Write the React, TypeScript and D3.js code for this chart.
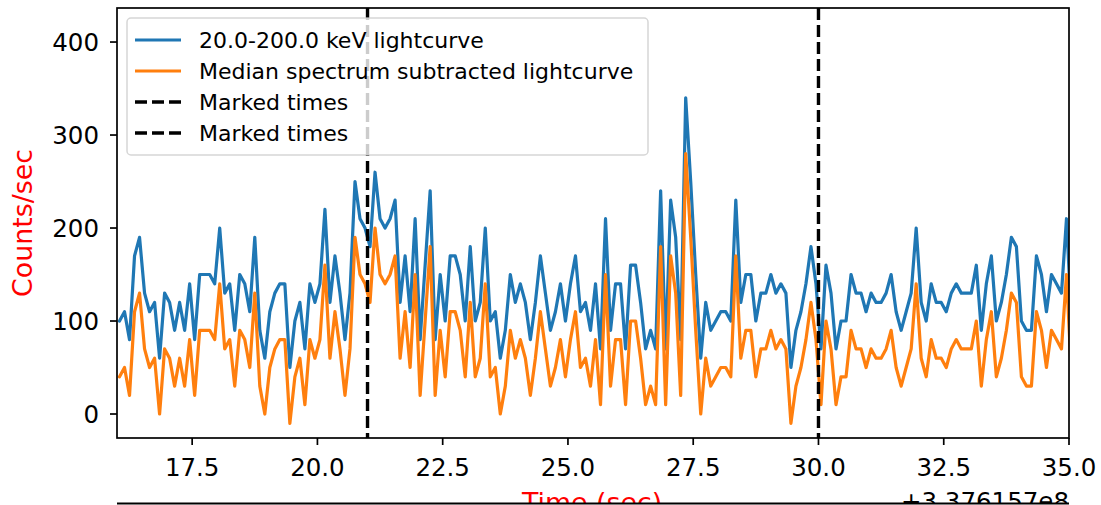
import React from "react";
import * as d3 from "d3";

// ---- data ----
const T0 = 16.05; // time of first bin (s, relative to offset)
const BIN = 0.1; // bin width (s)
const blueCounts: number[] = [
  100, 110, 80, 170, 190, 130, 110, 120, 60, 130, 120, 90, 120, 90, 140, 80, 150, 150, 150, 140, 200, 130, 140,
  90, 150, 140, 110, 190, 90, 60, 110, 130, 140, 140, 50, 100, 120, 70, 140, 120, 140, 220, 120, 170, 130, 80,
  130, 250, 210, 200, 180, 260, 210, 200, 210, 230, 120, 170, 110, 210, 80, 160, 240, 80, 150, 100, 170, 170, 150,
  100, 180, 100, 120, 200, 100, 110, 60, 90, 150, 120, 140, 120, 80, 120, 170, 130, 90, 110, 140, 100, 140, 170, 110,
  120, 90, 140, 70, 210, 90, 140, 140, 70, 160, 160, 120, 70, 90, 70, 240, 70, 230, 190, 80, 340,
  250, 150, 60, 120, 90,
  100, 110, 110, 100, 230, 120, 150, 150, 100, 130, 130, 150, 130, 140, 130, 50, 90, 110, 140, 180,
  140, 70, 160, 130, 70, 100, 100, 150, 130, 130, 110, 130, 120, 120, 130, 150, 110, 90, 110, 130, 200, 120, 100,
  140, 120, 120, 110, 130, 140, 130, 130, 130, 160, 90, 140, 170, 100, 120, 150, 190, 180, 100, 90, 90, 170, 150, 110, 150, 140, 130, 210, 100,
];
const orangeCounts: number[] = [
  40, 50, 20, 110, 130, 70, 50, 60, 0, 70, 60, 30, 60, 30, 80, 20, 90, 90, 90, 80, 140, 70, 80,
  30, 90, 80, 50, 130, 30, 0, 50, 70, 80, 80, -10, 40, 60, 10, 80, 60, 80, 160, 60, 110, 70, 20,
  70, 190, 150, 140, 120, 200, 150, 140, 150, 170, 60, 110, 50, 150, 20, 100, 180, 20, 90, 40, 110, 110, 90,
  40, 120, 40, 60, 140, 40, 50, 0, 30, 90, 60, 80, 60, 20, 60, 110, 70, 30, 50, 80, 40, 80, 110, 50,
  60, 30, 80, 10, 150, 30, 80, 80, 10, 100, 100, 60, 10, 30, 10, 180, 10, 170, 130, 20, 280,
  190, 90, 0, 60, 30,
  40, 50, 50, 40, 170, 60, 90, 90, 40, 70, 70, 90, 70, 80, 70, -10, 30, 50, 80, 120,
  80, 10, 100, 70, 10, 40, 40, 90, 70, 70, 50, 70, 60, 60, 70, 90, 50, 30, 50, 70, 140, 60, 40,
  80, 60, 60, 50, 70, 80, 70, 70, 70, 100, 30, 80, 110, 40, 60, 90, 130, 120, 40, 30, 30, 110, 90, 50, 90, 80, 70, 150, 40,
];
const markedTimes: number[] = [21.0, 30.0];
const xTicks: number[] = [17.5, 20.0, 22.5, 25.0, 27.5, 30.0, 32.5, 35.0];
const yTicks: number[] = [0, 100, 200, 300, 400];
const legendLabels: string[] = [
  "20.0-200.0 keV lightcurve",
  "Median spectrum subtracted lightcurve",
  "Marked times",
  "Marked times",
];
const xLabel = "Time (sec)";
const yLabel = "Counts/sec";
const offsetText = "+3.376157e8";

// ---- layout ----
const W = 1101;
const H = 505;
const L = 117;
const R = 1069;
const T = 8;
const B = 438;
const FONT = "'DejaVu Sans', sans-serif";
const BLUE = "#1f77b4";
const ORANGE = "#ff7f0e";
const TICK_FS = 24.5;
const LEG_FS = 22;
const LAB_FS = 26.8;

export default function App() {
  const x = d3.scaleLinear().domain([16, 35]).range([L, R]);
  const y = d3.scaleLinear().domain([-25.8, 436.6]).range([B, T]);
  const times = blueCounts.map((_, i) => T0 + BIN * i);
  const line = d3
    .line<number>()
    .x((_, i) => x(times[i]))
    .y((d) => y(d));

  const legendRows = [40, 71, 102, 133];

  return (
    <svg
      width={W}
      height={H}
      style={{ position: "absolute", left: 0, top: 0, background: "#fff" }}
      fontFamily={FONT}
    >
      <defs>
        <clipPath id="plotclip">
          <rect x={L} y={T} width={R - L} height={B - T} />
        </clipPath>
      </defs>
      <rect x={0} y={0} width={W} height={H} fill="#fff" />
      <g clipPath="url(#plotclip)">
        <path d={line(blueCounts) || ""} fill="none" stroke={BLUE} strokeWidth={3.2} strokeLinejoin="round" strokeLinecap="round" />
        <path d={line(orangeCounts) || ""} fill="none" stroke={ORANGE} strokeWidth={3.2} strokeLinejoin="round" strokeLinecap="round" />
        {markedTimes.map((t, i) => (
          <line key={i} x1={x(t)} x2={x(t)} y1={T} y2={B} stroke="#000" strokeWidth={3.4} strokeDasharray="12,5" />
        ))}
      </g>
      {/* spines */}
      <rect x={L} y={T} width={R - L} height={B - T} fill="none" stroke="#000" strokeWidth={1.7} />
      {/* x ticks */}
      {xTicks.map((t) => (
        <g key={t}>
          <line x1={x(t)} x2={x(t)} y1={B} y2={B + 7} stroke="#000" strokeWidth={1.7} />
          <text x={x(t)} y={476} fontSize={TICK_FS} textAnchor="middle" fill="#000">
            {t.toFixed(1)}
          </text>
        </g>
      ))}
      {/* y ticks */}
      {yTicks.map((t) => (
        <g key={t}>
          <line x1={L - 7} x2={L} y1={y(t)} y2={y(t)} stroke="#000" strokeWidth={1.7} />
          <text x={99} y={y(t)} dy="0.36em" fontSize={TICK_FS} textAnchor="end" fill="#000">
            {t}
          </text>
        </g>
      ))}
      <text transform={`translate(32,223) rotate(-90)`} fontSize={LAB_FS} textAnchor="middle" fill="red">
        {yLabel}
      </text>
      <text x={592} y={512} fontSize={LAB_FS} textAnchor="middle" fill="red">
        {xLabel}
      </text>
      <text x={R} y={510} fontSize={TICK_FS} textAnchor="end" fill="#000">
        {offsetText}
      </text>
      {/* legend */}
      <g>
        <rect x={127} y={18} width={521} height={137} rx={4} fill="#fff" fillOpacity={0.8} stroke="#cccccc" strokeOpacity={0.8} strokeWidth={1.5} />
        {legendLabels.map((lab, i) => {
          const ly = legendRows[i];
          const color = i === 0 ? BLUE : i === 1 ? ORANGE : "#000";
          return (
            <g key={i}>
              <line
                x1={135}
                x2={181}
                y1={ly}
                y2={ly}
                stroke={color}
                strokeWidth={i < 2 ? 3.2 : 3.4}
                strokeDasharray={i < 2 ? undefined : "12,5"}
              />
              <text x={199} y={ly} dy="0.36em" fontSize={LEG_FS} fill="#000">
                {lab}
              </text>
            </g>
          );
        })}
      </g>
      {/* lower axes top edge covering the label */}
      <rect x={0} y={503} width={W} height={H - 503} fill="#fff" />
      <line x1={L} x2={R} y1={503.5} y2={503.5} stroke="#000" strokeWidth={1.8} />
    </svg>
  );
}
